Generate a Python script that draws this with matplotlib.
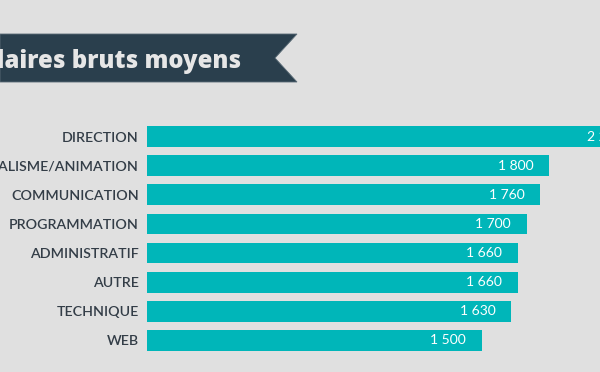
import matplotlib
matplotlib.use("Agg")
import matplotlib.pyplot as plt
from matplotlib.patches import Polygon

categories = ["DIRECTION", "JOURNALISME/ANIMATION", "COMMUNICATION", "PROGRAMMATION",
              "ADMINISTRATIF", "AUTRE", "TECHNIQUE", "WEB"]
values = [2200, 1800, 1760, 1700, 1660, 1660, 1630, 1500]
value_labels = ["2 200", "1 800", "1 760", "1 700", "1 660", "1 660", "1 630", "1 500"]
title = "Salaires bruts moyens"

W, H = 600, 372
BG = "#e0e0e0"
BAR = "#00b6b9"
DARK = "#2a3f4d"
LABEL = "#333d47"

fig = plt.figure(figsize=(W / 100, H / 100), dpi=100, facecolor=BG)

# axes in pixel coords
x0, x1 = 147, 600
ytop, ybot = 122, 355
ax = fig.add_axes([x0 / W, 1 - ybot / H, (x1 - x0) / W, (ybot - ytop) / H])
ax.set_facecolor(BG)
scale = 0.2235  # px per unit
ax.set_xlim(0, (x1 - x0) / scale)
ax.set_ylim(len(categories) - 0.5, -0.5)
ypos = list(range(len(categories)))
bars = ax.barh(ypos, values, height=0.71, color=BAR, clip_on=False)
for b in bars:
    b.set_clip_on(False)
for y, v, lab in zip(ypos, values, value_labels):
    ax.annotate(lab, (v, y), xytext=(-16, 0), textcoords="offset pixels",
                ha="right", va="center", color="white", fontsize=10,
                family="Lato", annotation_clip=False)
ax.set_yticks(ypos)
ax.set_yticklabels(categories, fontsize=10.2, family="Lato", fontweight="semibold",
                   color=LABEL)
ax.tick_params(axis="y", length=0, pad=6)
ax.set_xticks([])
for s in ax.spines.values():
    s.set_visible(False)

# title banner
pts = [(0, 34), (297, 34), (275, 58), (297, 82), (0, 82)]
poly = Polygon([(px / W, 1 - py / H) for px, py in pts], closed=True,
               transform=fig.transFigure, facecolor=DARK, edgecolor="#5a6b76",
               linewidth=0.6)
fig.patches.append(poly)
fig.text(241 / W, 1 - 67.5 / H, title, ha="right", va="baseline",
         fontsize=17.2, family="Open Sans", fontweight="heavy", color="#e6e6e6")

fig.savefig("out.png", dpi=100, facecolor=BG)
